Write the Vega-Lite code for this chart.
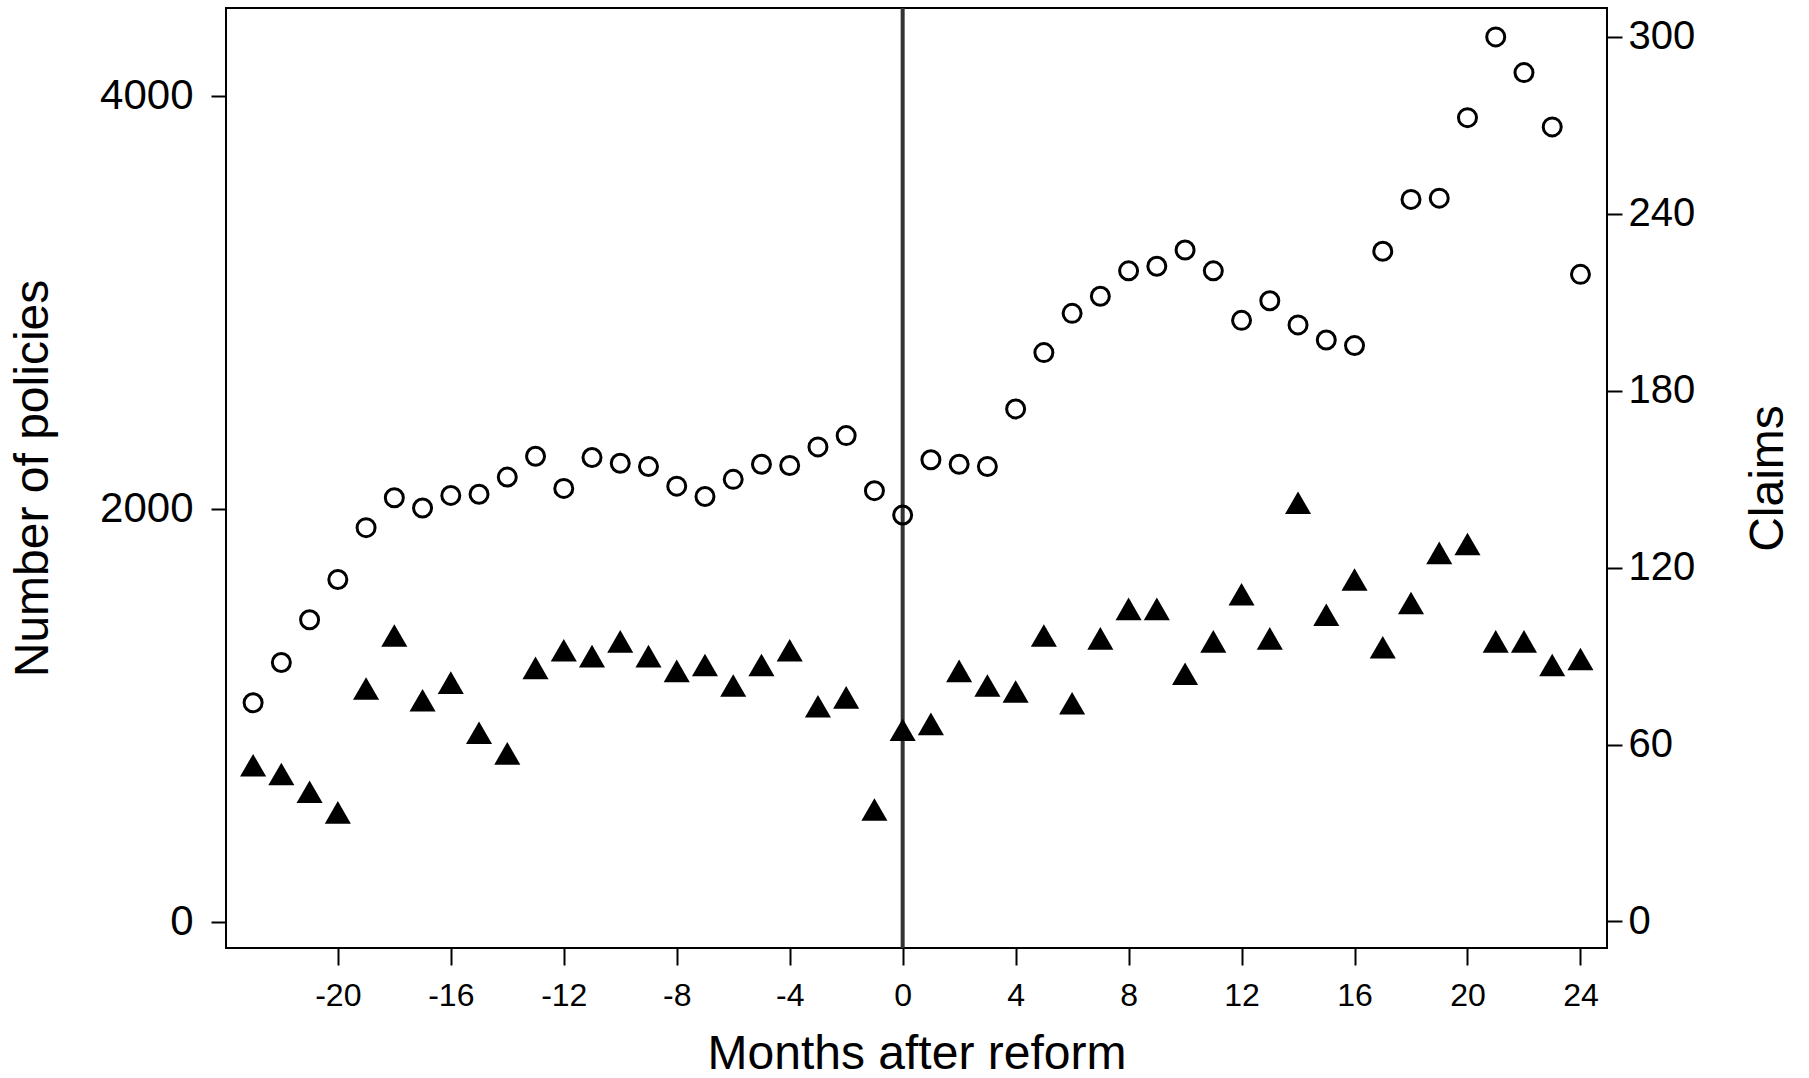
{
  "$schema": "https://vega.github.io/schema/vega-lite/v6.json",
  "width": 1381,
  "height": 940,
  "autosize": {"type": "none"},
  "padding": {"left": 226, "top": 8, "right": 202, "bottom": 130},
  "background": "white",
  "config": {
    "view": {"stroke": "black", "strokeWidth": 2},
    "font": "Liberation Sans",
    "axis": {
      "domain": false,
      "grid": false,
      "tickColor": "black",
      "tickWidth": 2,
      "labelColor": "black",
      "titleColor": "black",
      "titleFontWeight": "normal",
      "labelFont": "Liberation Sans",
      "titleFont": "Liberation Sans",
      "labelExpr": "'' + datum.value"
    }
  },
  "data": {
    "values": [
      {"month": -23, "policies": 1060, "claims": 53},
      {"month": -22, "policies": 1255, "claims": 50},
      {"month": -21, "policies": 1462, "claims": 44},
      {"month": -20, "policies": 1657, "claims": 37},
      {"month": -19, "policies": 1908, "claims": 79},
      {"month": -18, "policies": 2053, "claims": 97},
      {"month": -17, "policies": 2003, "claims": 75},
      {"month": -16, "policies": 2064, "claims": 81},
      {"month": -15, "policies": 2070, "claims": 64},
      {"month": -14, "policies": 2153, "claims": 57},
      {"month": -13, "policies": 2254, "claims": 86},
      {"month": -12, "policies": 2098, "claims": 92},
      {"month": -11, "policies": 2248, "claims": 90},
      {"month": -10, "policies": 2220, "claims": 95},
      {"month": -9, "policies": 2204, "claims": 90},
      {"month": -8, "policies": 2109, "claims": 85},
      {"month": -7, "policies": 2059, "claims": 87},
      {"month": -6, "policies": 2142, "claims": 80},
      {"month": -5, "policies": 2215, "claims": 87},
      {"month": -4, "policies": 2209, "claims": 92},
      {"month": -3, "policies": 2299, "claims": 73},
      {"month": -2, "policies": 2354, "claims": 76},
      {"month": -1, "policies": 2087, "claims": 38},
      {"month": 0, "policies": 1969, "claims": 65},
      {"month": 1, "policies": 2237, "claims": 67},
      {"month": 2, "policies": 2215, "claims": 85},
      {"month": 3, "policies": 2204, "claims": 80},
      {"month": 4, "policies": 2483, "claims": 78},
      {"month": 5, "policies": 2756, "claims": 97},
      {"month": 6, "policies": 2946, "claims": 74},
      {"month": 7, "policies": 3029, "claims": 96},
      {"month": 8, "policies": 3152, "claims": 106},
      {"month": 9, "policies": 3174, "claims": 106},
      {"month": 10, "policies": 3253, "claims": 84},
      {"month": 11, "policies": 3152, "claims": 95},
      {"month": 12, "policies": 2912, "claims": 111},
      {"month": 13, "policies": 3007, "claims": 96},
      {"month": 14, "policies": 2890, "claims": 142},
      {"month": 15, "policies": 2817, "claims": 104},
      {"month": 16, "policies": 2790, "claims": 116},
      {"month": 17, "policies": 3247, "claims": 93},
      {"month": 18, "policies": 3498, "claims": 108},
      {"month": 19, "policies": 3504, "claims": 125},
      {"month": 20, "policies": 3894, "claims": 128},
      {"month": 21, "policies": 4285, "claims": 95},
      {"month": 22, "policies": 4112, "claims": 95},
      {"month": 23, "policies": 3849, "claims": 87},
      {"month": 24, "policies": 3135, "claims": 89}
    ]
  },
  "encoding": {
    "x": {
      "field": "month",
      "type": "quantitative",
      "scale": {"domain": [-23.96, 24.94], "nice": false, "zero": false},
      "axis": {
        "values": [-20, -16, -12, -8, -4, 0, 4, 8, 12, 16, 20, 24],
        "tickSize": 17,
        "labelFontSize": 32,
        "labelPadding": 15,
        "title": "Months after reform",
        "titleFontSize": 48,
        "titlePadding": 19
      }
    }
  },
  "layer": [
    {
      "mark": {"type": "rule", "color": "#333333", "strokeWidth": 4},
      "data": {"values": [{"month": 0}]},
      "encoding": {}
    },
    {
      "mark": {"type": "point", "shape": "circle", "filled": false, "stroke": "black", "strokeWidth": 3, "size": 324, "opacity": 1},
      "encoding": {
        "y": {
          "field": "policies",
          "type": "quantitative",
          "scale": {"domain": [-128, 4425], "nice": false, "zero": false},
          "axis": {
            "orient": "left",
            "values": [0, 2000, 4000],
            "tickSize": 15,
            "labelFontSize": 42,
            "labelPadding": 18,
            "title": "Number of policies",
            "titleFontSize": 48,
            "titlePadding": 42
          }
        }
      }
    },
    {
      "mark": {"type": "point", "shape": "triangle-up", "filled": true, "color": "black", "size": 680, "opacity": 1},
      "encoding": {
        "y": {
          "field": "claims",
          "type": "quantitative",
          "scale": {"domain": [-9.0, 309.8], "nice": false, "zero": false},
          "axis": {
            "orient": "right",
            "values": [0, 60, 120, 180, 240, 300],
            "tickSize": 15,
            "labelFontSize": 40,
            "labelPadding": 6,
            "title": "Claims",
            "titleFontSize": 48,
            "titleAngle": 270,
            "titleBaseline": "top",
            "titlePadding": 50
          }
        }
      }
    }
  ],
  "resolve": {"scale": {"y": "independent"}}
}
